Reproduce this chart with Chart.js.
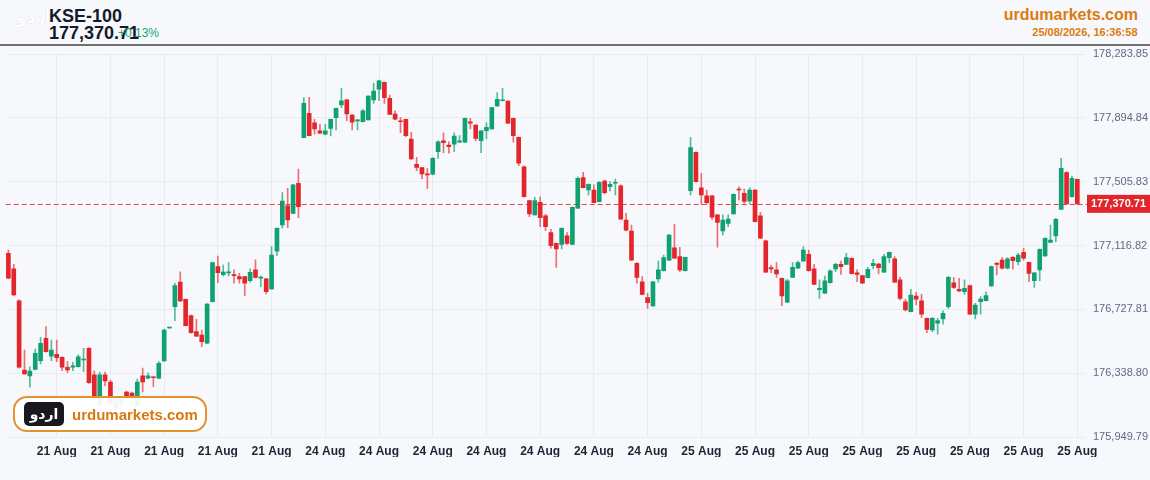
<!DOCTYPE html>
<html lang="en">
<head>
  <meta charset="UTF-8">
  <title>KSE-100 - urdumarkets.com</title>
  <!-- Chart.js -->
  <script src="https://cdn.jsdelivr.net/npm/chart.js"></script>

  <style>
    body {
      margin: 0;
      padding: 0;
      width: 1150px;
      height: 480px;
      overflow: hidden;
      background: #f7f8fc;
      font-family: Arial, "Liberation Sans", sans-serif;
      position: relative;
    }

    /* Header */
    .header-line {
      position: absolute;
      left: 0;
      top: 44px;
      width: 1150px;
      height: 2px;
      background: #6f6f6f;
    }

    .txt {
      position: absolute;
      white-space: nowrap;
    }

    .logo-faint {
      left: 16px;
      top: 9px;
      font-family: "DejaVu Sans", sans-serif;
      font-size: 17px;
      line-height: 17px;
      font-weight: bold;
      color: #ffffff;
      text-shadow: 0 0 1px rgba(0, 0, 0, 0.18);
    }

    .index-name {
      left: 49px;
      top: 6.5px;
      font-size: 18px;
      line-height: 18px;
      font-weight: bold;
      color: #151a2b;
    }

    .index-value {
      left: 49px;
      top: 24px;
      font-size: 18px;
      line-height: 18px;
      font-weight: bold;
      color: #151a2b;
    }

    .index-change {
      left: 118px;
      top: 26.5px;
      font-size: 12px;
      line-height: 12px;
      color: #17a472;
      z-index: 2;
    }

    .site {
      right: 12px;
      top: 7px;
      font-size: 16px;
      line-height: 16px;
      font-weight: bold;
      color: #dc7b10;
    }

    .stamp {
      right: 12.5px;
      top: 26.7px;
      font-size: 11px;
      line-height: 11px;
      font-weight: bold;
      color: #dc7b10;
    }

    /* Chart */
    .chart-box {
      position: absolute;
      left: 0;
      top: 46px;
      width: 1150px;
      height: 434px;
    }

    /* Watermark badge */
    .badge {
      position: absolute;
      left: 13px;
      top: 395.5px;
      width: 190px;
      height: 32px;
      border: 2px solid #e3922f;
      border-radius: 14px;
      background: rgba(255, 255, 255, 0.93);
      z-index: 5;
    }

    .badge-logo {
      position: absolute;
      left: 9px;
      top: 4px;
      width: 40px;
      height: 24px;
      border-radius: 5px;
      background: #18181f;
      color: #ffffff;
      font-family: "DejaVu Sans", sans-serif;
      font-weight: bold;
      font-size: 14px;
      line-height: 24px;
      text-align: center;
    }

    .badge-text {
      position: absolute;
      left: 57px;
      top: 9px;
      font-size: 15px;
      line-height: 15px;
      font-weight: bold;
      color: #d9780f;
      white-space: nowrap;
    }
  </style>
</head>
<body>
  <div class="txt logo-faint">اردو</div>
  <div class="txt index-name">KSE-100</div>
  <div class="txt index-value">177,370.71</div>
  <div class="txt index-change">+0.13%</div>
  <div class="txt site">urdumarkets.com</div>
  <div class="txt stamp">25/08/2026, 16:36:58</div>
  <div class="header-line"></div>

  <div class="chart-box">
    <canvas id="kseChart"></canvas>
  </div>

  <div class="badge">
    <div class="badge-logo">اردو</div>
    <div class="badge-text">urdumarkets.com</div>
  </div>

  <script>
    // sessions shown on the x axis (candles per day)
    const sessionDays = ['21 Aug', '24 Aug', '25 Aug'];
    const sessionLengths = [55, 72, 73];

    // y axis tick labels
    const yTicks = [175949.79, 176338.80, 176727.81, 177116.82, 177505.83, 177894.84, 178283.85];

    const lastPrice = 177370.71;

    // OHLC values, one per candle
    const openPrices = [
      177069, 176974, 176780, 176358, 176322, 176362, 176415, 176551, 176443, 176454,
      176436, 176375, 176375, 176378, 176419, 176490, 176328, 176145, 176328, 176285,
      176127, 176157, 176224, 176218, 176139, 176322, 176309, 176317, 176308, 176413,
      176614, 176744, 176894, 176789, 176689, 176592, 176571, 176521, 176774, 176988,
      176939, 176949, 176939, 176927, 176927, 176902, 176968, 176917, 176913, 176852,
      177083, 177242, 177358, 177313, 177496, 177774, 177923, 177865, 177815, 177795,
      177831, 177896, 177973, 178004, 177912, 177876, 177871, 177882, 178004, 178069,
      178111, 178014, 177918, 177876, 177886, 177766, 177612, 177591, 177551, 177551,
      177689, 177754, 177729, 177735, 177746, 177746, 177871, 177851, 177756, 177817,
      177827, 177967, 177999, 177997, 177892, 177776, 177597, 177390, 177303, 177380,
      177298, 177195, 177130, 177124, 177175, 177124, 177344, 177530, 177455, 177455,
      177384, 177510, 177475, 177496, 177481, 177272, 177205, 177008, 176896, 176799,
      176748, 176913, 176963, 177028, 177103, 177049, 176963, 177451, 177685, 177469,
      177419, 177419, 177303, 177205, 177252, 177309, 177461, 177435, 177388, 177455,
      177297, 177146, 176982, 176968, 176917, 176771, 176923, 176978, 177022, 177063,
      176974, 176848, 176826, 176890, 176974, 177002, 177002, 177039, 176951, 176933,
      176921, 176994, 177004, 176954, 177043, 177035, 176907, 176774, 176713, 176809,
      176779, 176673, 176602, 176643, 176669, 176744, 176890, 176850, 176835, 176872,
      176699, 176774, 176780, 176870, 177008, 177028, 176978, 177045, 177018, 177075,
      177014, 176902, 176968, 177053, 177136, 177175, 177337, 177561, 177414, 177520
    ];

    const highPrices = [
      177089, 177002, 176785, 176480, 176378, 176486, 176557, 176622, 176541, 176541,
      176439, 176409, 176405, 176450, 176490, 176494, 176352, 176346, 176346, 176297,
      176181, 176194, 176230, 176224, 176303, 176370, 176340, 176318, 176409, 176608,
      176620, 176887, 176957, 176791, 176693, 176667, 176602, 176763, 177016, 177053,
      176998, 177012, 176968, 176947, 176928, 176974, 177029, 176931, 176917, 177110,
      177224, 177439, 177465, 177489, 177583, 178018, 178020, 177886, 177855, 177855,
      177888, 177955, 178075, 178007, 177914, 177884, 177947, 178030, 178105, 178125,
      178113, 178034, 177937, 177898, 177888, 177807, 177654, 177592, 177587, 177652,
      177754, 177804, 177749, 177804, 177786, 177894, 177892, 177853, 177817, 177865,
      177959, 178048, 178075, 177999, 177894, 177778, 177603, 177392, 177411, 177414,
      177307, 177216, 177132, 177224, 177195, 177352, 177536, 177563, 177492, 177486,
      177506, 177516, 177506, 177522, 177486, 177313, 177242, 177012, 176927, 176826,
      176899, 177022, 177059, 177185, 177246, 177106, 177047, 177776, 177687, 177557,
      177455, 177421, 177305, 177303, 177303, 177431, 177475, 177461, 177469, 177457,
      177319, 177150, 176998, 177012, 176919, 176911, 177012, 177022, 177110, 177089,
      177002, 176907, 176931, 176968, 177008, 177022, 177069, 177041, 176968, 176934,
      176984, 177033, 177008, 177063, 177077, 177049, 176923, 176789, 176850, 176832,
      176820, 176675, 176679, 176673, 176718, 176927, 176921, 176917, 176907, 176876,
      176765, 176805, 176835, 176992, 177014, 177043, 177043, 177049, 177069, 177100,
      177016, 176954, 177096, 177163, 177242, 177283, 177648, 177567, 177540, 177522
    ];

    const lowPrices = [
      176913, 176809, 176370, 176331, 176253, 176358, 176395, 176466, 176415, 176409,
      176354, 176342, 176354, 176375, 176348, 176277, 176175, 176133, 176261, 176145,
      176114, 176139, 176188, 176194, 176133, 176224, 176303, 176256, 176303, 176410,
      176611, 176659, 176774, 176626, 176582, 176561, 176500, 176518, 176773, 176890,
      176931, 176931, 176887, 176887, 176811, 176893, 176919, 176866, 176821, 176849,
      177055, 177222, 177225, 177311, 177286, 177772, 177784, 177796, 177798, 177790,
      177784, 177821, 177957, 177877, 177821, 177821, 177870, 177880, 177983, 177999,
      177983, 177914, 177882, 177804, 177780, 177642, 177573, 177522, 177465, 177547,
      177648, 177682, 177679, 177689, 177745, 177745, 177827, 177754, 177682, 177766,
      177825, 177965, 177998, 177859, 177746, 177603, 177412, 177292, 177301, 177231,
      177207, 177100, 176983, 177096, 177124, 177123, 177342, 177467, 177425, 177376,
      177382, 177431, 177449, 177425, 177276, 177205, 177027, 176887, 176815, 176734,
      176745, 176893, 176961, 177024, 177037, 176957, 176961, 177425, 177504, 177370,
      177370, 177276, 177106, 177181, 177231, 177307, 177394, 177374, 177374, 177260,
      177158, 176951, 176951, 176923, 176750, 176768, 176922, 176977, 177021, 176961,
      176879, 176795, 176824, 176888, 176957, 176941, 177001, 176943, 176896, 176886,
      176919, 176974, 176943, 176952, 177014, 176891, 176785, 176718, 176712, 176754,
      176677, 176585, 176592, 176576, 176638, 176734, 176856, 176835, 176819, 176695,
      176669, 176699, 176779, 176868, 176937, 176972, 176974, 176972, 176998, 177028,
      176896, 176862, 176902, 177051, 177135, 177140, 177336, 177368, 177412, 177368
    ];

    const closePrices = [
      176917, 176815, 176375, 176334, 176352, 176460, 176521, 176470, 176480, 176433,
      176375, 176358, 176383, 176439, 176425, 176281, 176188, 176328, 176291, 176157,
      176169, 176181, 176200, 176200, 176285, 176285, 176322, 176311, 176399, 176602,
      176617, 176872, 176779, 176628, 176585, 176565, 176531, 176760, 177012, 176951,
      176955, 176957, 176933, 176913, 176887, 176954, 176923, 176925, 176835, 177059,
      177222, 177388, 177272, 177486, 177353, 177983, 177786, 177827, 177801, 177816,
      177886, 177953, 177999, 177918, 177868, 177882, 177937, 178028, 178058, 178121,
      178018, 177916, 177886, 177871, 177786, 177644, 177593, 177553, 177547, 177648,
      177749, 177743, 177719, 177784, 177754, 177892, 177862, 177770, 177815, 177837,
      177957, 178008, 178004, 177862, 177786, 177618, 177414, 177309, 177390, 177286,
      177231, 177116, 177096, 177222, 177130, 177350, 177526, 177469, 177490, 177378,
      177502, 177439, 177490, 177502, 177278, 177211, 177028, 176923, 176819, 176768,
      176896, 176968, 177043, 177181, 177039, 176968, 177045, 177713, 177506, 177425,
      177378, 177289, 177258, 177272, 177278, 177429, 177455, 177385, 177455, 177262,
      177161, 176954, 176974, 176943, 176809, 176902, 176984, 177012, 177089, 176963,
      176880, 176856, 176901, 176963, 177002, 176988, 177043, 176945, 176941, 176887,
      176972, 177008, 176982, 177049, 177075, 176893, 176795, 176724, 176815, 176789,
      176698, 176606, 176673, 176659, 176704, 176923, 176862, 176840, 176856, 176698,
      176754, 176791, 176811, 176988, 177002, 176978, 177035, 177024, 177059, 177039,
      176947, 176951, 177094, 177161, 177150, 177276, 177587, 177370, 177526, 177370.71
    ];

    // one category per candle, named after its trading day
    const categories = [];
    sessionDays.forEach((day, d) => {
      for (let k = 0; k < sessionLengths[d]; k++) categories.push(day);
    });

    const upColor = '#10a170';
    const downColor = '#e3262b';
    const upWick = 'rgba(16, 161, 112, 0.7)';
    const downWick = 'rgba(227, 38, 43, 0.65)';
    const gridColor = '#e7ebf3';

    const isUp = closePrices.map((c, i) => c >= openPrices[i]);

    // dashed last-price line + red price tag on the axis
    const lastPricePlugin = {
      id: 'lastPrice',
      afterDatasetsDraw(chart) {
        const { ctx, chartArea, scales } = chart;
        const py = Math.round(scales.y.getPixelForValue(lastPrice)) + 0.5;
        ctx.save();
        ctx.strokeStyle = 'rgba(227, 38, 43, 0.85)';
        ctx.lineWidth = 1;
        ctx.setLineDash([5, 3]);
        ctx.beginPath();
        ctx.moveTo(chartArea.left, py);
        ctx.lineTo(chartArea.right + 7, py);
        ctx.stroke();
        ctx.restore();
      },
      afterDraw(chart) {
        const { ctx, chartArea, scales, width } = chart;
        const py = scales.y.getPixelForValue(lastPrice);
        const x0 = chartArea.right + 7;
        ctx.save();
        ctx.fillStyle = '#e0262b';
        ctx.fillRect(x0, py - 9, width - x0, 18);
        ctx.fillStyle = '#ffffff';
        ctx.font = 'bold 11px Arial, "Liberation Sans", sans-serif';
        ctx.textBaseline = 'middle';
        ctx.fillText(lastPrice.toLocaleString('en-US', { minimumFractionDigits: 2 }), x0 + 4, py + 0.5);
        ctx.restore();
      }
    };

    const kseCtx = document.getElementById('kseChart').getContext('2d');
    const kseChart = new Chart(kseCtx, {
      type: 'bar',
      data: {
        labels: categories,
        datasets: [
          {
            label: 'Body',
            data: openPrices.map((o, i) => [o, closePrices[i]]),
            backgroundColor: isUp.map(u => (u ? upColor : downColor)),
            barThickness: 4,
            minBarLength: 1,
            grouped: false
          },
          {
            label: 'Wick',
            data: lowPrices.map((l, i) => [l, highPrices[i]]),
            backgroundColor: isUp.map(u => (u ? upWick : downWick)),
            barThickness: 1,
            grouped: false
          }
        ]
      },
      options: {
        responsive: true,
        maintainAspectRatio: false,
        animation: false,
        layout: {
          padding: { left: 5.7, top: 8, right: 0, bottom: 23 }
        },
        plugins: {
          legend: { display: false },
          tooltip: { enabled: false }
        },
        scales: {
          x: {
            offset: true,
            border: { display: false },
            grid: {
              offset: false,
              drawTicks: false,
              color: (c) => (c.index % 10 === 9 ? gridColor : 'rgba(0,0,0,0)')
            },
            ticks: {
              autoSkip: false,
              maxRotation: 0,
              padding: 7,
              color: '#1f2433',
              font: { size: 12, weight: 'bold' },
              callback: function (value, index) {
                return index % 10 === 9 ? this.getLabelForValue(value) : '';
              }
            },
            afterFit(scale) {
              scale.height = 20;
            }
          },
          y: {
            position: 'right',
            min: yTicks[0],
            max: yTicks[yTicks.length - 1],
            afterBuildTicks(scale) {
              scale.ticks = yTicks.map(v => ({ value: v }));
            },
            border: { display: false },
            grid: { color: gridColor, tickLength: 5 },
            ticks: {
              padding: 8,
              color: '#5e6a80',
              font: { size: 11 },
              callback: (v) => Number(v).toLocaleString('en-US', { minimumFractionDigits: 2, maximumFractionDigits: 2 })
            },
            afterFit(scale) {
              // fixed axis width, and let the layout padding decide the top edge
              scale.width = 70;
              scale.paddingTop = 0;
              scale.paddingBottom = 0;
            }
          }
        }
      },
      plugins: [lastPricePlugin]
    });
  </script>
</body>
</html>
